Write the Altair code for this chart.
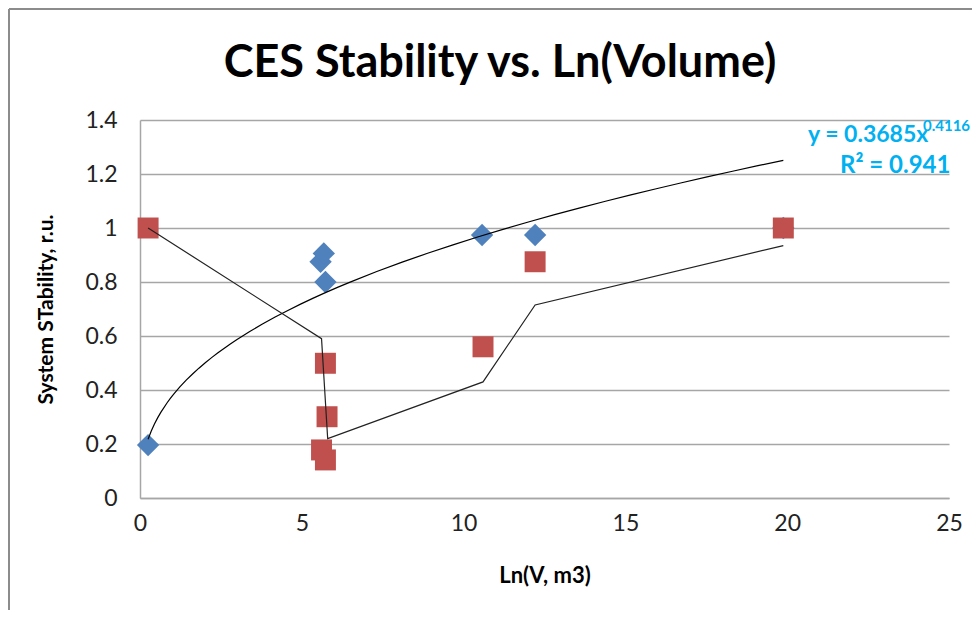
import altair as alt
import pandas as pd

# ---- data ----
blue_x = [0.25, 5.58, 5.68, 5.73, 10.57, 12.21, 19.88]
blue_y = [0.196, 0.875, 0.906, 0.80, 0.974, 0.974, 1.0]

red_x = [0.25, 5.61, 5.73, 5.78, 5.73, 10.6, 12.21, 19.88]
red_y = [1.0, 0.178, 0.499, 0.301, 0.141, 0.56, 0.875, 1.0]

# moving-average style trend line through the red series
ma_x = [0.25, 5.61, 5.80, 10.6, 12.21, 19.88]
ma_y = [1.0, 0.59, 0.22, 0.43, 0.715, 0.935]

x_ticks = [0, 5, 10, 15, 20, 25]
y_ticks = [0, 0.2, 0.4, 0.6, 0.8, 1.0, 1.2, 1.4]

title_text = "CES Stability vs. Ln(Volume)"
x_title = "Ln(V, m3)"
y_title = "System STability, r.u."
eq_main = "y = 0.3685x"
eq_sup = "0.4116"
r2_text = "R² = 0.941"

blue = pd.DataFrame({"x": blue_x, "y": blue_y})
red = pd.DataFrame({"x": red_x, "y": red_y})
ma = pd.DataFrame({"x": ma_x, "y": ma_y})

FONT = "Lato"
GRID = "#A6A6A6"
W, H = 809, 378

X = alt.X(
    "x:Q",
    scale=alt.Scale(domain=[0, 25], nice=False),
    axis=alt.Axis(
        values=x_ticks, title=x_title, grid=False, ticks=False, labelFlush=False,
        domainColor=GRID, domainWidth=1.5,
        labelFont=FONT, labelFontSize=23, labelColor="#222", labelPadding=14,
        titleFont=FONT, titleFontSize=22, titleFontWeight="bold", titleColor="#000",
        titlePadding=30,
    ),
)
Y = alt.Y(
    "y:Q",
    scale=alt.Scale(domain=[0, 1.4], nice=False),
    axis=alt.Axis(
        values=y_ticks, format=".1~f", title=y_title, grid=True, gridColor=GRID,
        gridWidth=1.5, ticks=False, domainColor=GRID, domainWidth=1.5,
        labelFont=FONT, labelFontSize=23, labelColor="#222", labelPadding=23,
        titleFont=FONT, titleFontSize=21, titleFontWeight="bold", titleColor="#000",
        titlePadding=28,
    ),
)

blue_pts = alt.Chart(blue).mark_point(
    shape="diamond", filled=True, size=500, color="#4F81BD", opacity=1
).encode(x=X, y=Y)

red_pts = alt.Chart(red).mark_point(
    shape="square", filled=True, size=440, color="#C0504D", opacity=1
).encode(x=X, y=Y)

power_fit = alt.Chart(blue).transform_regression(
    "x", "y", method="pow", extent=[0.25, 19.88]
).mark_line(color="#000", strokeWidth=1.2).encode(x=X, y=Y)

ma_line = alt.Chart(ma).mark_line(color="#222", strokeWidth=1.2).encode(x=X, y=Y)

title_mark = alt.Chart(pd.DataFrame({"t": [title_text]})).mark_text(
    align="center", baseline="alphabetic", font=FONT, fontSize=45,
    fontWeight="bold", color="#000"
).encode(x=alt.value(360), y=alt.value(-43), text="t:N")

eq1 = alt.Chart(pd.DataFrame({"t": [eq_main]})).mark_text(
    align="left", baseline="alphabetic", font=FONT, fontSize=23,
    fontWeight="bold", color="#00B0F0"
).encode(x=alt.value(668), y=alt.value(22), text="t:N")

eq2 = alt.Chart(pd.DataFrame({"t": [eq_sup]})).mark_text(
    align="left", baseline="alphabetic", font=FONT, fontSize=15,
    fontWeight="bold", color="#00B0F0"
).encode(x=alt.value(783), y=alt.value(11), text="t:N")

eq3 = alt.Chart(pd.DataFrame({"t": [r2_text]})).mark_text(
    align="left", baseline="alphabetic", font=FONT, fontSize=24,
    fontWeight="bold", color="#00B0F0"
).encode(x=alt.value(700), y=alt.value(53), text="t:N")

border_left = alt.Chart(pd.DataFrame({"a": [0]})).mark_rule(
    color="#8C8C8C", strokeWidth=2
).encode(x=alt.value(-131), y=alt.value(-111), y2=alt.value(620))

border_top = alt.Chart(pd.DataFrame({"a": [0]})).mark_rule(
    color="#8C8C8C", strokeWidth=2
).encode(y=alt.value(-111), x=alt.value(-131), x2=alt.value(900))

chart = alt.layer(
    blue_pts, red_pts, power_fit, ma_line, title_mark, eq1, eq2, eq3,
    border_left, border_top
).properties(
    width=W, height=H,
    autosize=alt.AutoSizeParams(type="none"),
    padding={"left": 132, "top": 112, "right": 23, "bottom": 112},
).configure_view(stroke=None)

chart.save("out.html", embed_options={"renderer": "svg", "actions": False})
